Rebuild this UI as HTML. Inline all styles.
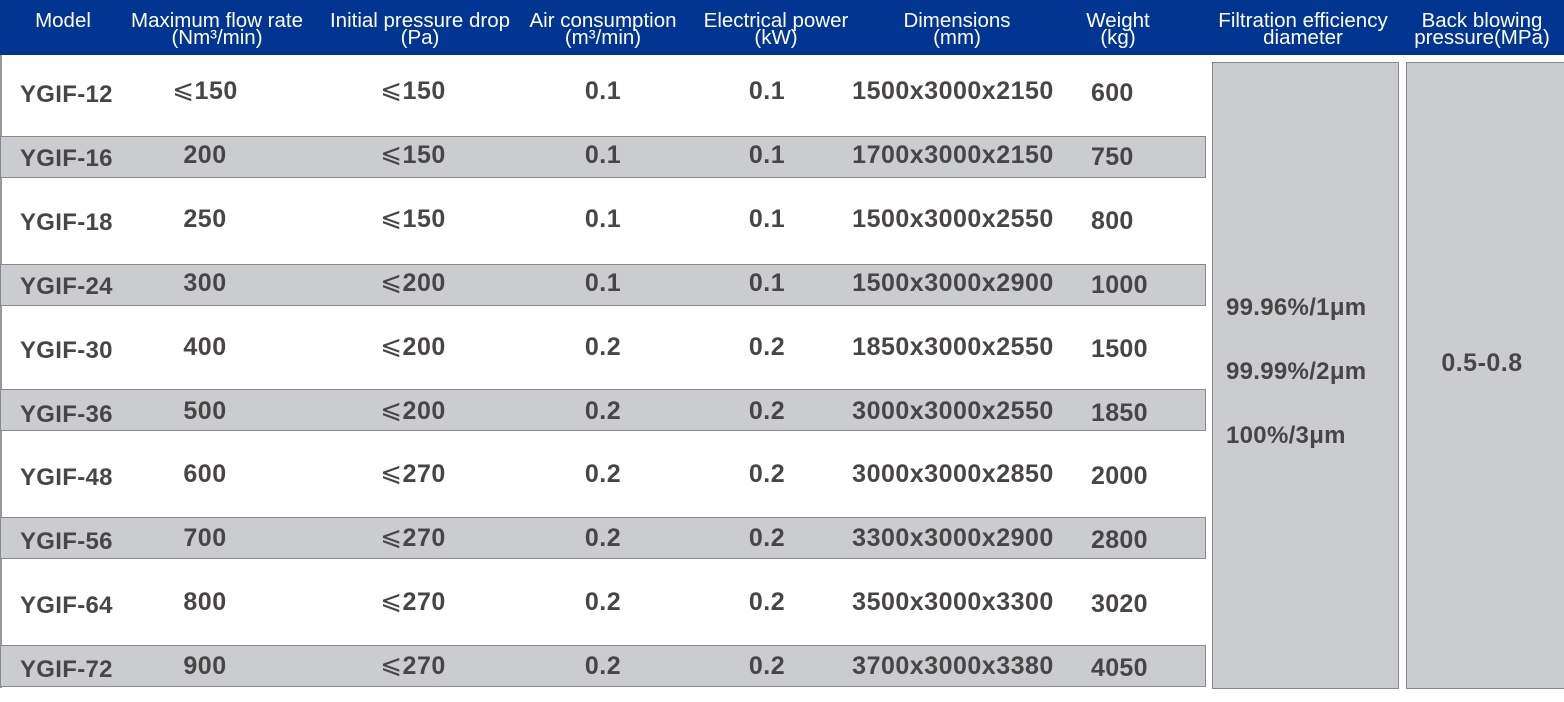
<!DOCTYPE html>
<html><head><meta charset="utf-8"><style>
body{margin:0;width:1564px;height:702px;background:#fff;position:relative;overflow:hidden;font-family:"Liberation Sans","Noto Sans CJK SC",sans-serif}
.hd{position:absolute;left:0;top:0;width:1564px;height:55px;background:#003591}
.h{position:absolute;color:#fff;font-size:20.5px;line-height:17px;text-align:center;transform:translateX(-50%);top:12px;white-space:nowrap}
.g{position:absolute;left:0;width:1204px;height:40px;background:#cbccd0;border:1px solid #888}
.box{position:absolute;background:#cbccd0;border:1px solid #888}
.t{position:absolute;color:#4a4545;font-weight:bold;font-size:25px;line-height:30px;transform:translate(-50%,-50%);white-space:nowrap;letter-spacing:0.5px}
.l{position:absolute;color:#4a4545;font-weight:bold;font-size:24px;line-height:30px;transform:translateY(-50%);white-space:nowrap;letter-spacing:0.3px}
.w{font-size:25px}
.le{font-family:"Noto Sans CJK SC",sans-serif;font-weight:normal;font-size:26px;line-height:0;vertical-align:1px}
</style></head><body>
<div class="hd"></div>
<div class="h" style="left:63px">Model</div>
<div class="h" style="left:217px">Maximum flow rate<br>(Nm³/min)</div>
<div class="h" style="left:420px">Initial pressure drop<br>(Pa)</div>
<div class="h" style="left:603px">Air consumption<br>(m³/min)</div>
<div class="h" style="left:776px">Electrical power<br>(kW)</div>
<div class="h" style="left:957px">Dimensions<br>(mm)</div>
<div class="h" style="left:1118px">Weight<br>(kg)</div>
<div class="h" style="left:1303px">Filtration efficiency<br>diameter</div>
<div class="h" style="left:1482px">Back blowing<br>pressure(MPa)</div>
<div style="position:absolute;left:0;top:55px;width:2px;height:633px;background:#999"></div>
<div class="g" style="top:136px"></div>
<div class="g" style="top:264px"></div>
<div class="g" style="top:389px"></div>
<div class="g" style="top:517px"></div>
<div class="g" style="top:645px"></div>
<div class="box" style="left:1212px;top:62px;width:185px;height:625px"></div>
<div class="box" style="left:1406px;top:62px;width:160px;height:625px"></div>
<div id="rows"></div>
<div class="l" style="left:1226px;top:308px">99.96%/1μm</div>
<div class="l" style="left:1226px;top:372px">99.99%/2μm</div>
<div class="l" style="left:1226px;top:436px">100%/3μm</div>
<div class="t" style="left:1482px;top:363px">0.5-0.8</div>
<script>
var L='<span class="le">⩽</span>';
var d=[["YGIF-12",L+"150",L+"150","0.1","0.1","1500x3000x2150","600"],
["YGIF-16","200",L+"150","0.1","0.1","1700x3000x2150","750"],
["YGIF-18","250",L+"150","0.1","0.1","1500x3000x2550","800"],
["YGIF-24","300",L+"200","0.1","0.1","1500x3000x2900","1000"],
["YGIF-30","400",L+"200","0.2","0.2","1850x3000x2550","1500"],
["YGIF-36","500",L+"200","0.2","0.2","3000x3000x2550","1850"],
["YGIF-48","600",L+"270","0.2","0.2","3000x3000x2850","2000"],
["YGIF-56","700",L+"270","0.2","0.2","3300x3000x2900","2800"],
["YGIF-64","800",L+"270","0.2","0.2","3500x3000x3300","3020"],
["YGIF-72","900",L+"270","0.2","0.2","3700x3000x3380","4050"]];
var h="",xs=[205,413,603,767,953];
d.forEach(function(r,i){var y=91+i*63.9;
h+='<div class="l" style="left:20px;top:'+(y+4)+'px">'+r[0]+'</div>';
for(var j=0;j<5;j++)h+='<div class="t" style="left:'+xs[j]+'px;top:'+y+'px">'+r[j+1]+'</div>';
h+='<div class="l w" style="left:1091px;top:'+(y+2)+'px">'+r[6]+'</div>';});
document.getElementById("rows").innerHTML=h;
</script>
</body></html>
